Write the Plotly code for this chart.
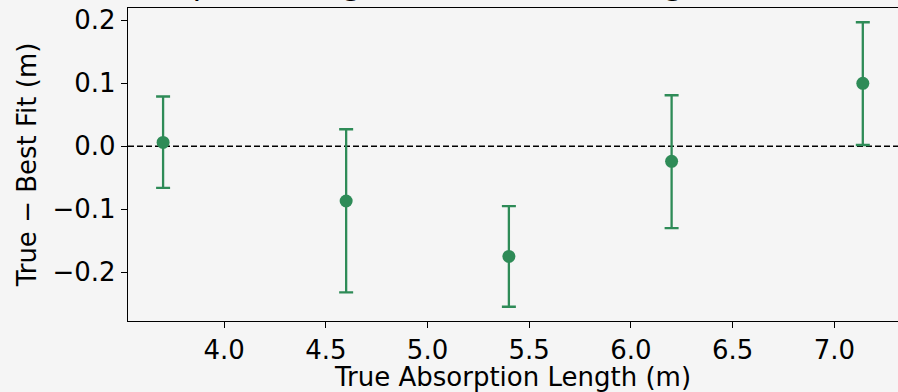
import plotly.graph_objects as go

true_length = [3.70, 4.60, 5.40, 6.20, 7.14]
residual = [0.006, -0.087, -0.175, -0.024, 0.100]
err_plus = [0.073, 0.114, 0.080, 0.105, 0.097]
err_minus = [0.072, 0.145, 0.080, 0.106, 0.098]

x_ticks = [4.0, 4.5, 5.0, 5.5, 6.0, 6.5, 7.0]
y_ticks = [-0.2, -0.1, 0.0, 0.1, 0.2]

title_text = "Absorption Length Bias vs True Length"
x_label = "True Absorption Length (m)"
y_label = "True \u2212 Best Fit (m)"

GREEN = "#2e8b57"
BG = "#f5f5f5"
FONT = "DejaVu Sans"

fig = go.Figure()
fig.add_trace(go.Scatter(
    x=true_length, y=residual, mode="markers",
    marker=dict(color=GREEN, size=13),
    error_y=dict(type="data", symmetric=False, array=err_plus, arrayminus=err_minus,
                 color=GREEN, thickness=2.3, width=7),
    showlegend=False,
))

fig.add_shape(type="line", xref="paper", yref="y", x0=0, x1=1, y0=0, y1=0,
              line=dict(color="black", width=1.3, dash="6px,3px"), layer="below")

fig.add_annotation(text=title_text, xref="paper", yref="paper", x=(99 - 128) / 770, y=1,
                   xanchor="left", yanchor="bottom", showarrow=False, yshift=4,
                   font=dict(family=FONT, size=32, color="black"))

fig.update_layout(
    width=898, height=392,
    margin=dict(l=128, r=0, t=8, b=71),
    paper_bgcolor=BG, plot_bgcolor=BG,
    font=dict(family=FONT, size=26, color="black"),
    xaxis=dict(range=[3.5275, 7.313], tickvals=x_ticks, tickformat=".1f",
               showline=True, linecolor="black", linewidth=1.3, mirror=True,
               ticks="outside", ticklen=6, tickwidth=1.3, tickcolor="black",
               showgrid=False, zeroline=False,
               title=dict(text=x_label, standoff=8, font=dict(size=26))),
    yaxis=dict(range=[-0.2776, 0.2196], tickvals=y_ticks, tickformat=".1f",
               showline=True, linecolor="black", linewidth=1.3, mirror=False,
               ticks="outside", ticklen=6, tickwidth=1.3, tickcolor="black",
               showgrid=False, zeroline=False,
               title=dict(text=y_label, standoff=8, font=dict(size=26))),
)

fig.write_html("out.html")
